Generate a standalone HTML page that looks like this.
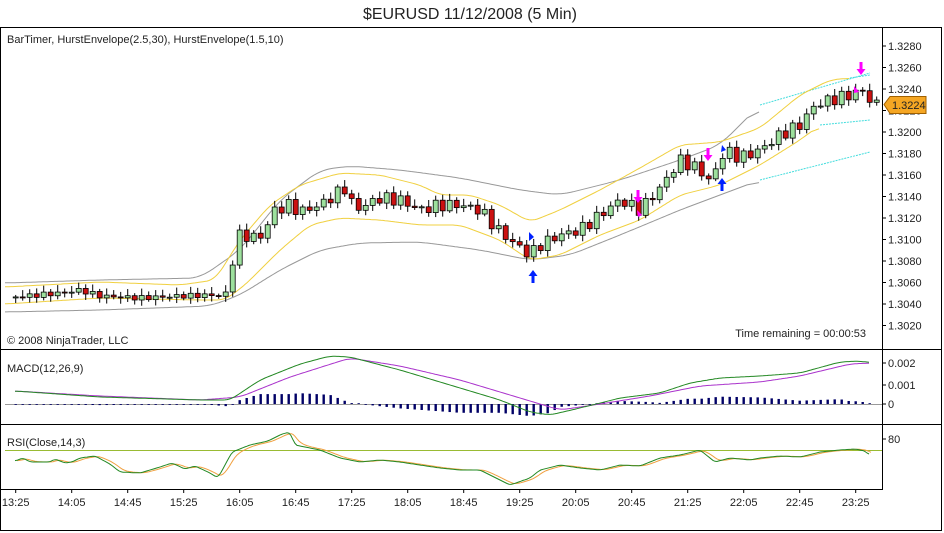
<!DOCTYPE html>
<html><head><meta charset="utf-8"><style>
body{margin:0;background:#fff;width:944px;height:533px;overflow:hidden}
svg{display:block}
text{font-family:"Liberation Sans",sans-serif;fill:#222}
</style></head><body>
<svg id="s" width="944" height="533" xmlns="http://www.w3.org/2000/svg">
<rect x="0.5" y="27.5" width="941" height="503" fill="#fff" stroke="#000"/>
<text x="470" y="19" font-size="16" text-anchor="middle" fill="#000">$EURUSD  11/12/2008 (5 Min)</text>
<line x1="0" y1="349.5" x2="942" y2="349.5" stroke="#000"/>
<line x1="0" y1="424.5" x2="942" y2="424.5" stroke="#000"/>
<line x1="882.5" y1="28" x2="882.5" y2="489" stroke="#000"/>
<line x1="0" y1="489.5" x2="883" y2="489.5" stroke="#000"/>
<text x="7" y="43" font-size="11">BarTimer, HurstEnvelope(2.5,30), HurstEnvelope(1.5,10)</text>
<text x="7" y="344" font-size="11">© 2008 NinjaTrader, LLC</text>
<text x="866" y="337" font-size="11" text-anchor="end">Time remaining = 00:00:53</text>
<text x="7" y="372" font-size="11">MACD(12,26,9)</text>
<text x="7" y="446" font-size="11">RSI(Close,14,3)</text>
<g id="g"></g>
</svg>
<script>
(function(){
var g=document.getElementById('g'),h='';
function pl(p,c,w,d){h+='<polyline fill="none" stroke="'+c+'" stroke-width="'+(w||1)+'"'+(d?' stroke-dasharray="'+d+'"':'')+' points="'+p.map(function(a){return a[0].toFixed(1)+','+a[1].toFixed(1)}).join(' ')+'"/>';}
function interp(p,x){for(var i=0;i<p.length-1;i++){if(x<=p[i+1][0]){var t=(x-p[i][0])/(p[i+1][0]-p[i][0]);t=Math.max(0,Math.min(1,t));return p[i][1]+(p[i+1][1]-p[i][1])*t;}}return p[p.length-1][1];}
function smooth(p,n){var o=[];for(var x=p[0][0];x<=p[p.length-1][0];x+=2)o.push([x,interp(p,x)]);n=n||6;var r=[];for(var i=0;i<o.length;i++){var s=0,c=0;for(var j=Math.max(0,i-n);j<=Math.min(o.length-1,i+n);j++){s+=o[j][1];c++;}r.push([o[i][0],s/c]);}return r;}
for(var k=0;k<14;k++){var v=1.3280-k*0.002,y=46+k*21.5;h+='<line x1="882" y1="'+y+'" x2="886" y2="'+y+'" stroke="#000"/><text x="888" y="'+(y+4)+'" font-size="11">'+v.toFixed(4)+'</text>';}
[[363,'0.002'],[385,'0.001'],[404,'0']].forEach(function(a){h+='<line x1="882" y1="'+a[0]+'" x2="886" y2="'+a[0]+'" stroke="#000"/><text x="888" y="'+(a[0]+4)+'" font-size="11">'+a[1]+'</text>';});
h+='<line x1="882" y1="439" x2="886" y2="439" stroke="#000"/><text x="888" y="443" font-size="11">80</text>';
var lbl=['13:25','14:05','14:45','15:25','16:05','16:45','17:25','18:05','18:45','19:25','20:05','20:45','21:25','22:05','22:45','23:25'];
lbl.forEach(function(l,i){var x=15.7+56*i;h+='<line x1="'+x+'" y1="489" x2="'+x+'" y2="493" stroke="#000"/><text x="'+x+'" y="506" font-size="11" text-anchor="middle">'+l+'</text>';});
pl(smooth([[5,283],[100,280],[200,278],[240,250],[280,200],[320,170],[350,166],[400,170],[460,178],[520,190],[560,195],[620,180],[680,160],[720,145],[760,105]]),'#999');
pl([[760,105],[870,73]],'#4dd','1','2,1');
pl(smooth([[5,312],[100,310],[210,306],[240,295],[280,270],[320,250],[360,243],[420,242],[480,250],[530,260],[570,255],[620,235],[680,210],[720,195],[760,180]]),'#999');
pl([[760,180],[870,152]],'#4dd','1','2,1');
pl(smooth([[5,287],[100,282],[180,285],[215,280],[240,240],[270,205],[300,185],[340,173],[380,175],[420,185],[440,195],[470,195],[500,205],[530,222],[560,210],[600,190],[640,168],[680,145],[720,142],[760,128],[800,95],[830,80],[850,78]],4),'#f0d040');
pl([[850,78],[870,75]],'#4dd','1','2,1');
pl(smooth([[5,304],[100,298],[200,300],[225,300],[245,285],[280,250],[310,225],[340,218],[380,220],[420,225],[460,225],[500,240],[530,260],[560,255],[600,235],[640,220],[680,195],[720,185],[760,165],[800,140],[820,125]],4),'#f0d040');
pl([[820,125],[870,120]],'#4dd','1','2,1');
var cp=[[15,297],[60,293],[80,290],[100,296],[140,298],[180,296],[215,295],[225,297],[232,262],[240,235],[260,238],[275,210],[290,205],[300,212],[320,205],[345,188],[355,210],[380,198],[400,200],[420,210],[440,205],[460,205],[480,210],[500,232],[510,240],[530,255],[540,245],[560,235],[580,230],[600,215],[620,200],[640,210],[660,188],[680,160],[700,170],[710,182],[718,165],[725,150],[740,158],[760,150],[780,135],[800,125],[815,105],[830,100],[850,95],[862,90],[870,100],[877,105]];
var prev=297;
for(var i=0;i<124;i++){var x=15.7+7*i;var c=interp(cp,x)+Math.sin(i*2.7)*4*(x>230?1.5:0.6);var o=prev;var hi=Math.min(o,c)-2-Math.abs(Math.sin(i*1.3))*5,lo=Math.max(o,c)+2+Math.abs(Math.cos(i*1.9))*4;
h+='<line x1="'+x+'" y1="'+hi+'" x2="'+x+'" y2="'+lo+'" stroke="#000"/>';
var bt=Math.min(o,c),bh=Math.max(1,Math.abs(o-c));h+='<rect x="'+(x-2.5)+'" y="'+bt+'" width="5" height="'+bh+'" fill="'+(c<o?'#9de09d':'#cc1111')+'" stroke="#000" stroke-width="0.8"/>';prev=c;}
function dn(x,y){h+='<path d="M'+(x-1.5)+' '+(y-10)+'h3v7h3l-4.5 6-4.5-6h3z" fill="#ff00ff"/>';}
function up(x,y){h+='<path d="M'+(x-1.5)+' '+(y+10)+'h3v-7h3l-4.5-6-4.5 6h3z" fill="#0022ff"/>';}
dn(638,200);dn(708,158);dn(861,72);up(533,273);up(722,181);
h+='<path d="M529 232l5 5-5 4z" fill="#0022ff"/><path d="M722 145l4 5-5 2z" fill="#0022ff"/><path d="M637 210l5 5-4 2z" fill="#ff00ff"/><path d="M854 86l5 6-5 1z" fill="#ff00ff"/>';
h+='<path d="M884 104.5l6-8h36v17h-36z" fill="#f5a623" stroke="#a06000"/><text x="892" y="109" font-size="11" fill="#000">1.3224</text>';
h+='<line x1="5" y1="404.5" x2="882" y2="404.5" stroke="#999"/>';
var mg=[[15,391],[100,397],[200,400],[230,400],[260,380],[300,364],[330,356],[350,357],[400,370],[450,385],[500,400],[530,412],[550,415],[580,408],[620,398],[660,393],[690,383],[720,378],[760,376],[800,373],[840,362],[860,361],[870,363]];
var ms=[[15,391],[100,396],[200,400],[240,397],[290,377],[350,358],[400,366],[460,380],[520,398],[560,410],[600,404],[650,396],[700,386],[760,382],[800,376],[850,364],[870,363]];
for(var i=0;i<123;i++){var x=15.7+7*i,d=(interp(ms,x)-interp(mg,x))*1.1;if(Math.abs(d)<0.8)d=d<0?-0.8:0.8;h+='<rect x="'+(x-1.2)+'" y="'+Math.min(404,404-d)+'" width="2.4" height="'+Math.abs(d)+'" fill="#000066"/>';}
pl(smooth(ms,4),'#aa33cc');pl(smooth(mg,3),'#228822');
h+='<line x1="5" y1="450.5" x2="882" y2="450.5" stroke="#99bb33"/>';
var rp=[[15,461],[23,458],[30,462],[50,462],[55,459],[65,463],[72,462],[80,458],[95,456],[110,464],[120,472],[140,473],[160,467],[172,463],[185,469],[195,466],[210,473],[218,478],[232,452],[250,445],[268,441],[282,434],[290,432],[295,445],[320,450],[340,458],[360,462],[380,460],[400,462],[420,465],[440,468],[460,470],[480,470],[500,480],[510,485],[530,478],[540,470],[560,465],[580,468],[600,470],[620,465],[640,466],[660,458],[680,455],[700,450],[715,462],[730,458],[750,460],[760,458],[780,456],[800,457],[820,452],[840,450],[855,449],[865,451],[870,456]];
var rs=smooth(rp,1),sg=[],e=rs[0][1];rs.forEach(function(a){e=e+(a[1]-e)*0.35;sg.push([a[0]+2,e]);});
pl(sg,'#f0a040');pl(rs,'#228822');
g.innerHTML=h;
})();
</script>
</body></html>
